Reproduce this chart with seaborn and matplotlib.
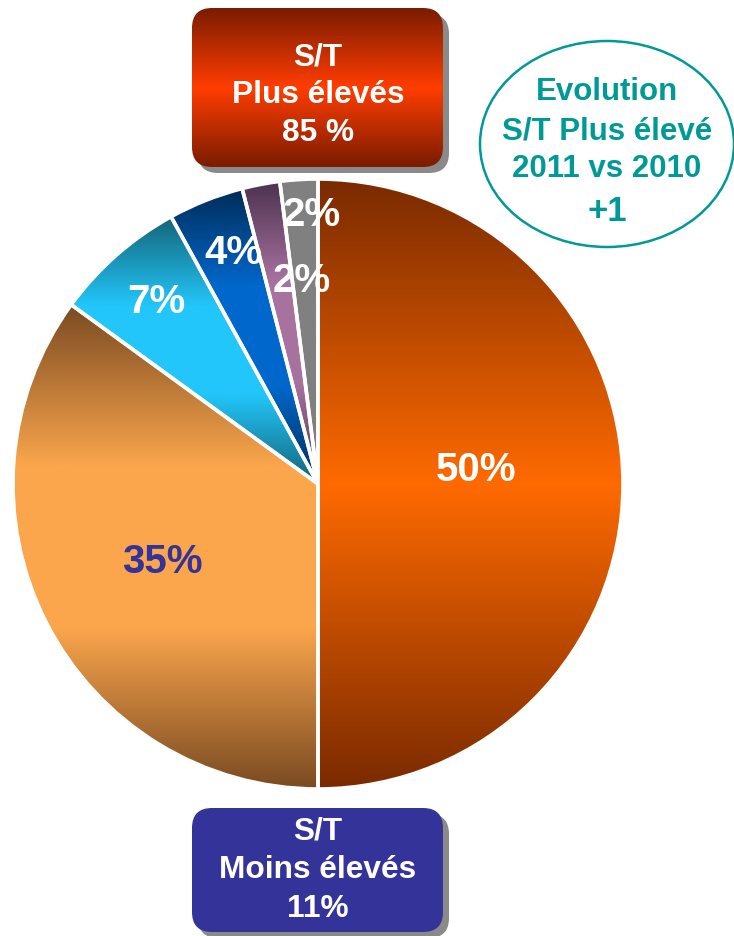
import numpy as np
import matplotlib
matplotlib.use("Agg")
import matplotlib.pyplot as plt
from matplotlib.patches import FancyBboxPatch, Ellipse
import seaborn as sns

# ---------------- data ----------------
values = [50, 35, 7, 4, 2, 2]
slice_labels = ["50%", "35%", "7%", "4%", "2%", "2%"]
label_colors = ["white", "#333399", "white", "white", "white", "white"]
edge_shades = ["#7A2A00", "#7A4A22", "#146478", "#002C58", "#4C3250", "#808080"]
mid_shades = ["#FF6A00", "#FBA64C", "#22C6FA", "#0068CC", "#A8729F", "#808080"]

top_box_lines = ["S/T", "Plus élevés", "85 %"]
bottom_box_lines = ["S/T", "Moins élevés", "11%"]
bubble_lines = ["Evolution", "S/T Plus élevé", "2011 vs 2010", "+1"]

# ---------------- style ----------------
sns.set_theme(style="white")
plt.rcParams["font.family"] = ["Liberation Sans", "DejaVu Sans"]

W, H = 734, 937


def Y(y):
    return H - y


fig = plt.figure(figsize=(W / 100, H / 100), dpi=100)
ax = fig.add_axes([0, 0, 1, 1])


def gradient_fill(patch, colors, extent, z):
    cmap = sns.blend_palette(colors, n_colors=256, as_cmap=True)
    grad = np.linspace(0, 1, 256).reshape(-1, 1)
    im = ax.imshow(grad, cmap=cmap, extent=extent, origin="lower",
                   aspect="auto", interpolation="bilinear", zorder=z)
    im.set_clip_path(patch)
    return im


# ---------------- pie ----------------
center = (318, Y(485))
R = 305
wedges, _ = ax.pie(values, startangle=90, counterclock=False, center=center,
                   radius=R, colors=mid_shades,
                   wedgeprops=dict(edgecolor="white", linewidth=2.6))

label_r = [0.52, 0.57, 0.80, 0.81, 0.67, 0.885]
label_dang = [5.5, -0.6, 0.0, -1.6, -6.3, -2.3]

for i, w in enumerate(wedges):
    w.set_zorder(2)
    bb = w.get_path().get_extents()
    stops = [edge_shades[i], mid_shades[i], mid_shades[i], edge_shades[i]]
    if i == 0:
        stops = [edge_shades[i], mid_shades[i], edge_shades[i]]
    gradient_fill(w, stops, [bb.x0, bb.x1, bb.y0, bb.y1], 1)
    w.set_facecolor("none")
    mid = np.deg2rad((w.theta1 + w.theta2) / 2 + label_dang[i])
    r = label_r[i] * R
    ax.text(center[0] + r * np.cos(mid), center[1] + r * np.sin(mid),
            slice_labels[i], ha="center", va="center", fontsize=29,
            fontweight="bold", color=label_colors[i], zorder=5)

# ---------------- boxes ----------------
def rbox(x0, y0, x1, y1):
    shadow = FancyBboxPatch((x0 + 6, Y(y1) - 6), x1 - x0, y1 - y0,
                            boxstyle="round,pad=0,rounding_size=20",
                            fc="#8a8a8a", ec="none", zorder=3)
    ax.add_patch(shadow)
    box = FancyBboxPatch((x0, Y(y1)), x1 - x0, y1 - y0,
                         boxstyle="round,pad=0,rounding_size=20",
                         fc="none", ec="none", zorder=4)
    ax.add_patch(box)
    return box


top_box = rbox(192, 9, 443, 168)
gradient_fill(top_box, ["#7A1C00", "#FF3D00", "#7A1C00"],
              [192, 443, Y(168), Y(9)], 3.5)

bot_box = rbox(192, 809, 443, 933)
bot_box.set_facecolor("#333399")

for txt, yb in zip(top_box_lines, [65, 103, 141]):
    ax.text(318, Y(yb), txt, ha="center", va="baseline", fontsize=22.8,
            fontweight="bold", color="white", zorder=6)

for txt, yb in zip(bottom_box_lines, [840, 878, 917]):
    ax.text(318, Y(yb), txt, ha="center", va="baseline", fontsize=22.8,
            fontweight="bold", color="white", zorder=6)

# ---------------- bubble ----------------
teal = "#009A96"
ax.add_patch(Ellipse((607, Y(145)), 254, 206, fc="white", ec=teal,
                     lw=1.8, zorder=4))
for txt, yb in zip(bubble_lines, [100, 139, 177, 221]):
    ax.text(607, Y(yb), txt, ha="center", va="baseline",
            fontsize=22.5 if txt != "+1" else 25,
            fontweight="bold", color=teal, zorder=6)

ax.set_xlim(0, W)
ax.set_ylim(0, H)
ax.set_aspect("auto")
ax.axis("off")

fig.savefig("out.png", dpi=100)
